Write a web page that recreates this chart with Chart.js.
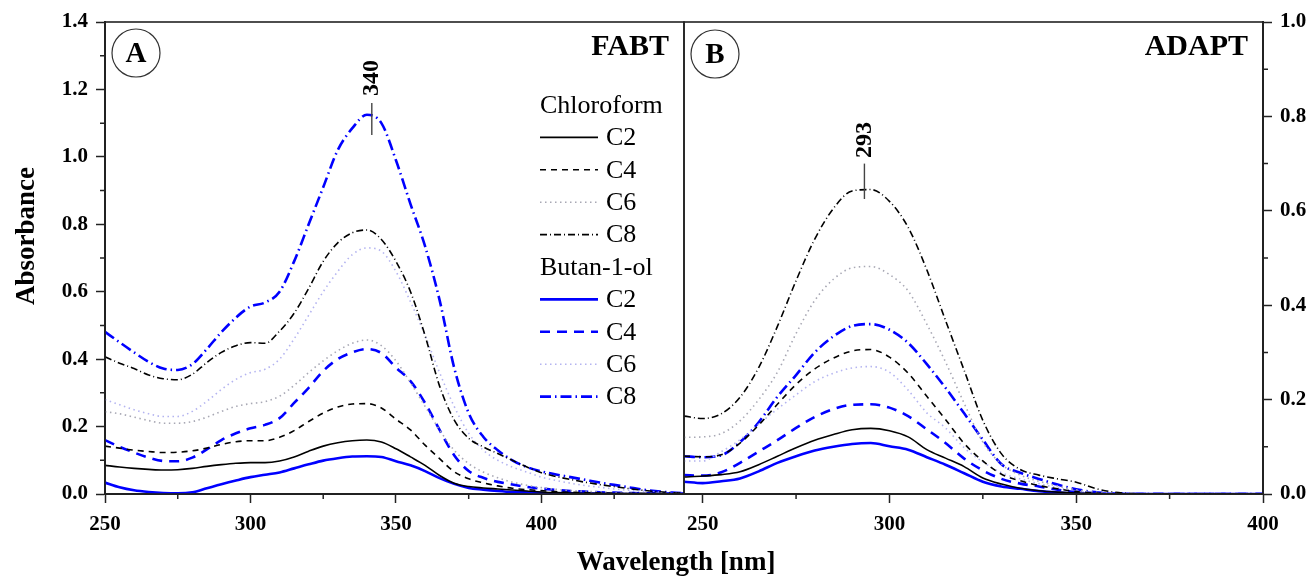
<!DOCTYPE html>
<html>
<head>
<meta charset="utf-8">
<script src="https://cdn.jsdelivr.net/npm/chart.js@4.4.1/dist/chart.umd.min.js"></script>
<style>
  body { margin: 0; background: #fff; }
  #wrap { position: relative; width: 1310px; height: 579px; }
  canvas { position: absolute; left: 0; top: 0; }
</style>
</head>
<body>
<div id="wrap">
  <canvas id="chartA" width="1310" height="579"></canvas>
  <canvas id="chartB" width="1310" height="579"></canvas>
</div>
<script>
// ---- data: panel A (FABT) ----
const wavelengthA = [250,255,260,265,270,275,280,285,290,295,300,305,310,315,320,325,330,335,340,345,
  350,355,360,365,370,375,380,385,390,395,400,405,410,415,420,425,430,435,440,445,450];
const chlC2A = [0.085,0.080,0.076,0.073,0.071,0.072,0.076,0.082,0.087,0.091,0.093,0.093,0.098,0.110,0.127,0.142,0.152,0.158,0.160,0.154,
  0.134,0.110,0.085,0.055,0.032,0.022,0.018,0.015,0.012,0.009,0.006,0.004,0.003,0.002,0.002,0.001,0.001,0.001,0.001,0,0];
const chlC4A = [0.142,0.136,0.130,0.126,0.123,0.124,0.128,0.136,0.147,0.155,0.158,0.158,0.168,0.188,0.215,0.240,0.258,0.267,0.268,0.255,
  0.222,0.190,0.145,0.105,0.066,0.045,0.033,0.024,0.017,0.013,0.010,0.007,0.005,0.004,0.003,0.002,0.001,0.001,0.001,0,0];
const chlC6A = [0.244,0.238,0.228,0.218,0.210,0.210,0.215,0.228,0.245,0.260,0.268,0.274,0.290,0.322,0.360,0.395,0.425,0.447,0.457,0.440,
  0.395,0.330,0.260,0.190,0.130,0.090,0.065,0.048,0.035,0.026,0.019,0.014,0.010,0.008,0.006,0.004,0.003,0.002,0.002,0.001,0.001];
const chlC8A = [0.407,0.388,0.372,0.353,0.342,0.339,0.355,0.390,0.420,0.440,0.449,0.447,0.483,0.536,0.610,0.690,0.745,0.775,0.783,0.755,
  0.690,0.600,0.470,0.320,0.220,0.165,0.140,0.120,0.100,0.080,0.063,0.052,0.043,0.035,0.028,0.022,0.016,0.011,0.007,0.004,0.002];
const butC2A = [0.034,0.020,0.011,0.006,0.003,0.002,0.005,0.017,0.029,0.040,0.050,0.057,0.064,0.076,0.088,0.099,0.106,0.111,0.112,0.110,
  0.097,0.085,0.068,0.047,0.030,0.018,0.013,0.009,0.006,0.005,0.003,0.002,0.002,0.001,0.001,0.001,0,0,0,0,0];
const butC4A = [0.160,0.140,0.123,0.108,0.098,0.097,0.108,0.132,0.160,0.180,0.195,0.205,0.225,0.270,0.315,0.365,0.400,0.420,0.430,0.418,
  0.375,0.335,0.270,0.190,0.115,0.068,0.048,0.036,0.028,0.021,0.016,0.012,0.009,0.007,0.005,0.004,0.003,0.002,0.002,0.001,0.001];
const butC6A = [0.280,0.265,0.250,0.238,0.230,0.230,0.245,0.275,0.310,0.340,0.360,0.370,0.400,0.460,0.530,0.600,0.660,0.710,0.730,0.720,
  0.660,0.570,0.470,0.360,0.260,0.180,0.130,0.100,0.080,0.065,0.050,0.040,0.032,0.025,0.020,0.015,0.011,0.008,0.005,0.003,0.002];
const butC8A = [0.481,0.450,0.420,0.392,0.372,0.368,0.385,0.430,0.480,0.523,0.556,0.568,0.600,0.690,0.800,0.910,1.020,1.085,1.125,1.100,
  0.990,0.860,0.735,0.575,0.375,0.240,0.170,0.130,0.100,0.080,0.067,0.058,0.050,0.042,0.034,0.027,0.020,0.013,0.008,0.004,0.002];

// ---- data: panel B (ADAPT) ----
const wavelengthB = [245,250,255,260,265,270,275,280,285,290,295,300,305,310,315,320,
  325,330,335,340,345,350,355,360,365,370,375,380,385,390,395,400];
const chlC2B = [0.036,0.038,0.041,0.047,0.062,0.080,0.098,0.114,0.126,0.136,0.139,0.134,0.121,0.094,0.076,0.058,
  0.034,0.021,0.012,0.007,0.004,0.002,0.001,0,0,0,0,0,0,0,0,0];
const chlC4B = [0.080,0.079,0.083,0.108,0.146,0.190,0.232,0.265,0.288,0.303,0.306,0.290,0.256,0.207,0.158,0.107,
  0.070,0.042,0.028,0.018,0.011,0.005,0.002,0,0,0,0,0,0,0,0,0];
const chlC6B = [0.120,0.121,0.128,0.155,0.200,0.258,0.340,0.410,0.455,0.479,0.482,0.465,0.430,0.360,0.280,0.192,
  0.110,0.063,0.040,0.027,0.017,0.009,0.004,0.001,0,0,0,0,0,0,0,0];
const chlC8B = [0.165,0.160,0.170,0.205,0.268,0.355,0.452,0.540,0.605,0.642,0.645,0.620,0.565,0.475,0.368,0.262,
  0.156,0.085,0.052,0.040,0.032,0.025,0.012,0.004,0.001,0,0,0,0,0,0,0];
const butC2B = [0.026,0.023,0.027,0.033,0.048,0.066,0.080,0.092,0.100,0.106,0.108,0.101,0.094,0.078,0.062,0.044,
  0.026,0.016,0.011,0.006,0.003,0.001,0,0,0,0,0,0,0,0,0,0];
const butC4B = [0.040,0.039,0.046,0.066,0.090,0.114,0.140,0.163,0.180,0.189,0.190,0.183,0.165,0.137,0.108,0.075,
  0.050,0.032,0.022,0.016,0.009,0.004,0.002,0,0,0,0,0,0,0,0,0];
const butC6B = [0.070,0.070,0.090,0.115,0.148,0.180,0.210,0.238,0.256,0.267,0.270,0.258,0.220,0.172,0.140,0.098,
  0.068,0.045,0.032,0.022,0.013,0.006,0.002,0,0,0,0,0,0,0,0,0];
const butC8B = [0.080,0.078,0.082,0.110,0.152,0.206,0.252,0.300,0.334,0.356,0.360,0.348,0.320,0.275,0.225,0.171,
  0.115,0.063,0.045,0.032,0.020,0.010,0.004,0.001,0,0,0,0,0,0,0,0];

// ---- ticks / labels ----
const xTicksA = [250, 300, 350, 400];
const xMinorA = [275, 325, 375, 425];
const yTicksA = [0, 0.2, 0.4, 0.6, 0.8, 1.0, 1.2, 1.4];
const yMinorA = [0.1, 0.3, 0.5, 0.7, 0.9, 1.1, 1.3];
const xTicksB = [250, 300, 350, 400];
const xMinorB = [275, 325, 375];
const yTicksB = [0, 0.2, 0.4, 0.6, 0.8, 1.0];
const yMinorB = [0.1, 0.3, 0.5, 0.7, 0.9];
const seriesNames = ['C2', 'C4', 'C6', 'C8', 'C2', 'C4', 'C6', 'C8'];
const solventNames = ['Chloroform', 'Butan-1-ol'];

// ---- styles ----
const styles = [
  { color: '#000000', width: 1.6, dash: [] },
  { color: '#000000', width: 1.6, dash: [6, 5] },
  { color: '#a8a8b4', width: 1.6, dash: [1.5, 3.5] },
  { color: '#000000', width: 1.6, dash: [7, 3, 1, 3] },
  { color: '#0000ff', width: 2.6, dash: [] },
  { color: '#0000ff', width: 2.6, dash: [10, 7] },
  { color: '#b4b4f0', width: 1.6, dash: [1.5, 3.5] },
  { color: '#0000ff', width: 2.6, dash: [11, 4, 1.5, 4] }
];

const serif = 'Liberation Serif, Times New Roman, serif';
const tickFont = { family: serif, size: 21, weight: 'bold' };

function makeDatasets(wl, series) {
  return series.map((vals, i) => ({
    label: seriesNames[i],
    data: vals.map((v, k) => ({ x: wl[k], y: v })),
    borderColor: styles[i].color,
    borderWidth: styles[i].width,
    borderDash: styles[i].dash,
    pointRadius: 0,
    fill: false,
    cubicInterpolationMode: 'monotone'
  }));
}

function setTicks(list) {
  return scale => { scale.ticks = list.map(v => ({ value: v })); };
}

// frame + minor ticks
function drawFrame(chart, minorX, minorY, right) {
  const { ctx, chartArea: a, scales } = chart;
  ctx.save();
  ctx.strokeStyle = '#222';
  ctx.lineWidth = 1.6;
  ctx.setLineDash([]);
  ctx.strokeRect(a.left, a.top, a.right - a.left, a.bottom - a.top);
  ctx.lineWidth = 1.5;
  ctx.beginPath();
  minorX.forEach(v => {
    const px = scales.x.getPixelForValue(v);
    ctx.moveTo(px, a.bottom);
    ctx.lineTo(px, a.bottom + 5);
  });
  minorY.forEach(v => {
    const py = scales.y.getPixelForValue(v);
    const ex = right ? a.right : a.left;
    ctx.moveTo(ex, py);
    ctx.lineTo(right ? ex + 5 : ex - 5, py);
  });
  ctx.stroke();
  ctx.restore();
}

function drawBadge(ctx, cx, cy, letter) {
  ctx.save();
  ctx.strokeStyle = '#333';
  ctx.lineWidth = 1.2;
  ctx.beginPath();
  ctx.arc(cx, cy, 24, 0, Math.PI * 2);
  ctx.stroke();
  ctx.fillStyle = '#000';
  ctx.font = 'bold 29px ' + serif;
  ctx.textAlign = 'center';
  ctx.textBaseline = 'middle';
  ctx.fillText(letter, cx, cy + 2);
  ctx.restore();
}

function drawPeak(chart, wl, yTop, yBottom, yText, label) {
  const { ctx, scales } = chart;
  const px = scales.x.getPixelForValue(wl);
  ctx.save();
  ctx.strokeStyle = '#444';
  ctx.lineWidth = 1.4;
  ctx.beginPath();
  ctx.moveTo(px, scales.y.getPixelForValue(yTop));
  ctx.lineTo(px, scales.y.getPixelForValue(yBottom));
  ctx.stroke();
  ctx.translate(px, scales.y.getPixelForValue(yText));
  ctx.rotate(-Math.PI / 2);
  ctx.fillStyle = '#000';
  ctx.font = 'bold 24px ' + serif;
  ctx.textAlign = 'center';
  ctx.textBaseline = 'middle';
  ctx.fillText(label, 0, 0);
  ctx.restore();
}

const panelAPlugin = {
  id: 'panelA',
  afterDraw(chart) {
    const { ctx } = chart;
    drawFrame(chart, xMinorA, yMinorA, false);
    drawBadge(ctx, 136, 53, 'A');
    ctx.save();
    ctx.fillStyle = '#000';
    ctx.font = 'bold 30px ' + serif;
    ctx.textAlign = 'right';
    ctx.textBaseline = 'alphabetic';
    ctx.fillText('FABT', 669, 55);
    // axis titles
    ctx.font = 'bold 27px ' + serif;
    ctx.textAlign = 'center';
    ctx.fillText('Wavelength [nm]', 676, 570);
    ctx.translate(34, 236);
    ctx.rotate(-Math.PI / 2);
    ctx.fillText('Absorbance', 0, 0);
    ctx.restore();
    drawPeak(chart, 341.7, 1.16, 1.065, 1.234, '340');
    // legend
    ctx.save();
    ctx.font = '26px ' + serif;
    ctx.fillStyle = '#000';
    ctx.textBaseline = 'middle';
    const ds = chart.data.datasets;
    let row = 0;
    for (let g = 0; g < 2; g++) {
      const yh = 105 + row * 32.4;
      ctx.fillText(solventNames[g], 540, yh + 1);
      row++;
      for (let k = 0; k < 4; k++) {
        const d = ds[g * 4 + k];
        const yy = 105 + row * 32.4;
        ctx.strokeStyle = d.borderColor;
        ctx.lineWidth = d.borderWidth;
        ctx.setLineDash(d.borderDash);
        ctx.beginPath();
        ctx.moveTo(540, yy);
        ctx.lineTo(598, yy);
        ctx.stroke();
        ctx.setLineDash([]);
        ctx.fillText(d.label, 606, yy + 1);
        row++;
      }
    }
    ctx.restore();
  }
};

const panelBPlugin = {
  id: 'panelB',
  afterDraw(chart) {
    const { ctx } = chart;
    drawFrame(chart, xMinorB, yMinorB, true);
    drawBadge(ctx, 715, 54, 'B');
    ctx.save();
    ctx.fillStyle = '#000';
    ctx.font = 'bold 30px ' + serif;
    ctx.textAlign = 'right';
    ctx.fillText('ADAPT', 1248, 55);
    ctx.restore();
    drawPeak(chart, 293.3, 0.70, 0.625, 0.75, '293');
  }
};

function axisX(min, max, ticks) {
  return {
    type: 'linear', min: min, max: max,
    afterBuildTicks: setTicks(ticks),
    afterFit: s => { s.height = 85; },
    ticks: { font: tickFont, color: '#000', padding: 9, maxRotation: 0, autoSkip: false, callback: v => String(v) },
    grid: { drawOnChartArea: false, tickLength: 9, color: '#222', tickWidth: 1.5 },
    border: { color: '#222', width: 2 }
  };
}

function axisY(max, ticks, pos, width) {
  return {
    type: 'linear', min: 0, max: max, position: pos,
    afterBuildTicks: setTicks(ticks),
    afterFit: s => { s.width = width; },
    ticks: { font: tickFont, color: '#000', padding: 8, autoSkip: false, callback: v => v.toFixed(1) },
    grid: { drawOnChartArea: false, tickLength: 9, color: '#222', tickWidth: 1.5 },
    border: { color: '#222', width: 2 }
  };
}

const common = {
  responsive: false,
  animation: false,
  devicePixelRatio: 1,
  plugins: { legend: { display: false }, tooltip: { enabled: false } }
};

new Chart(document.getElementById('chartA'), {
  type: 'line',
  data: { datasets: makeDatasets(wavelengthA, [chlC2A, chlC4A, chlC6A, chlC8A, butC2A, butC4A, butC6A, butC8A]) },
  options: Object.assign({}, common, {
    layout: { padding: { left: 0, right: 626, top: 22, bottom: 0 } },
    scales: { x: axisX(250, 449, xTicksA), y: axisY(1.4, yTicksA, 'left', 105) }
  }),
  plugins: [panelAPlugin]
});

new Chart(document.getElementById('chartB'), {
  type: 'line',
  data: { datasets: makeDatasets(wavelengthB, [chlC2B, chlC4B, chlC6B, chlC8B, butC2B, butC4B, butC6B, butC8B]) },
  options: Object.assign({}, common, {
    layout: { padding: { left: 684, right: 0, top: 22, bottom: 0 } },
    scales: { x: axisX(245, 400, xTicksB), y: axisY(1.0, yTicksB, 'right', 47) }
  }),
  plugins: [panelBPlugin]
});
</script>
</body>
</html>
